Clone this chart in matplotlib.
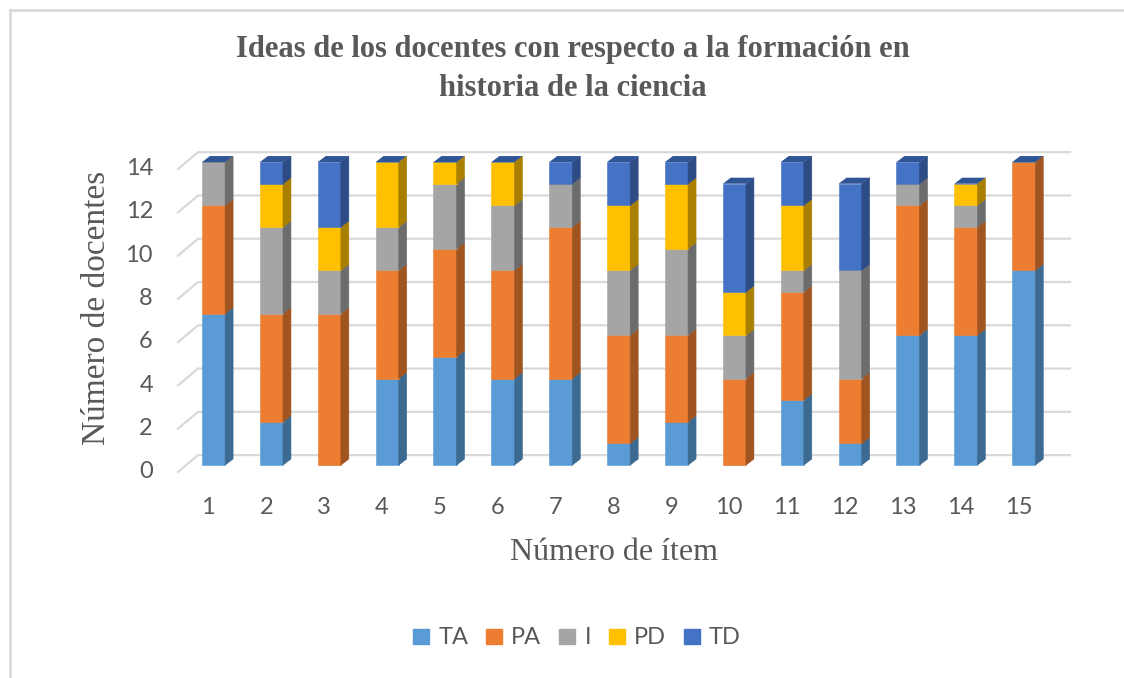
import numpy as np
import matplotlib.pyplot as plt
from matplotlib.patches import Polygon, Patch
from matplotlib.lines import Line2D

# datos
items = np.arange(1, 16)
series = ['TA', 'PA', 'I', 'PD', 'TD']
TA = [7, 2, 0, 4, 5, 4, 4, 1, 2, 0, 3, 1, 6, 6, 9]
PA = [5, 5, 7, 5, 5, 5, 7, 5, 4, 4, 5, 3, 6, 5, 5]
I_ = [2, 4, 2, 2, 3, 3, 2, 3, 4, 2, 1, 5, 1, 1, 0]
PD = [0, 2, 2, 3, 1, 2, 0, 3, 3, 2, 3, 0, 0, 1, 0]
TD = [0, 1, 3, 0, 0, 0, 1, 2, 1, 5, 2, 4, 1, 0, 0]
yticks = np.arange(0, 15, 2)

colors = ['#5B9BD5', '#ED7D31', '#A5A5A5', '#FFC000', '#4472C4']
sides = ['#3d6a91', '#a0541f', '#6c6c6c', '#a87f00', '#2d4c86']
top_col = '#2f5597'
grid_col = '#d9d9d9'
txt_col = '#595959'

fig = plt.figure(figsize=(11.24, 6.78), dpi=100)
ax = fig.add_axes([178 / 1124, 1 - 472 / 678, 892 / 1124, 322 / 678])
ax.set_xlim(0.386, 15.80)
ax.set_ylim(-0.32, 14.56)
ax.axis('off')

# rejilla 3D: pared lateral + pared del fondo
for v in yticks:
    ax.plot([0.386, 0.732, 15.80], [v - 0.32, v + 0.46, v + 0.46],
            color=grid_col, lw=1.6, zorder=0, clip_on=False)

w, dx, dy = 0.40, 0.138, 0.28
data = [TA, PA, I_, PD, TD]
bottom = np.zeros(len(items))
for k, vals in enumerate(data):
    vals = np.array(vals, dtype=float)
    ax.bar(items, vals, width=w, bottom=bottom, color=colors[k],
           edgecolor=colors[k], lw=0.4, zorder=3)
    for x, b, h in zip(items, bottom, vals):
        if h <= 0:
            continue
        xr = x + w / 2
        ax.add_patch(Polygon([(xr, b), (xr + dx, b + dy), (xr + dx, b + h + dy), (xr, b + h)],
                             closed=True, facecolor=sides[k], edgecolor=sides[k],
                             lw=0.4, zorder=3))
    bottom = bottom + vals

for x, t in zip(items, bottom):
    xl, xr = x - w / 2, x + w / 2
    ax.add_patch(Polygon([(xl, t), (xl + dx, t + dy), (xr + dx, t + dy), (xr, t)],
                         closed=True, color=top_col, zorder=4, lw=0))

font = 'Lato'
for v in yticks:
    ax.text(0.386 - 25 / 57.86, v - 0.30, str(v), ha='right', va='center',
            fontsize=17, color=txt_col, family=font)
for x in items:
    ax.text(x - 0.09, -0.32 - 36 / 21.64, str(x), ha='center', va='center',
            fontsize=17, color=txt_col, family=font)

serif = 'Liberation Serif'
fig.text(573 / 1124, 1 - 69 / 678,
         'Ideas de los docentes con respecto a la formación en\nhistoria de la ciencia',
         ha='center', va='center', fontsize=22, fontweight='bold', color=txt_col,
         family=serif, linespacing=1.45)
fig.text(614 / 1124, 1 - 552 / 678, 'Número de ítem', ha='center', va='center',
         fontsize=23, color=txt_col, family=serif)
fig.text(97 / 1124, 1 - 308 / 678, 'Número de docentes', ha='center', va='center',
         fontsize=24, color=txt_col, family=serif, rotation=90)

handles = [Patch(color=c) for c in colors]
fig.legend(handles, series, loc='center', ncol=5, frameon=False,
           bbox_to_anchor=(577 / 1124, 1 - 638 / 678),
           prop={'family': font, 'size': 17}, labelcolor=txt_col,
           handlelength=0.68, handleheight=0.6, handletextpad=0.38,
           columnspacing=0.76)

# marco del gráfico
fig.add_artist(Line2D([10 / 1124, 10 / 1124], [0, 1 - 10 / 678], color=grid_col, lw=2))
fig.add_artist(Line2D([10 / 1124, 1], [1 - 10 / 678, 1 - 10 / 678], color=grid_col, lw=2))

fig.savefig('out.png', dpi=100)
